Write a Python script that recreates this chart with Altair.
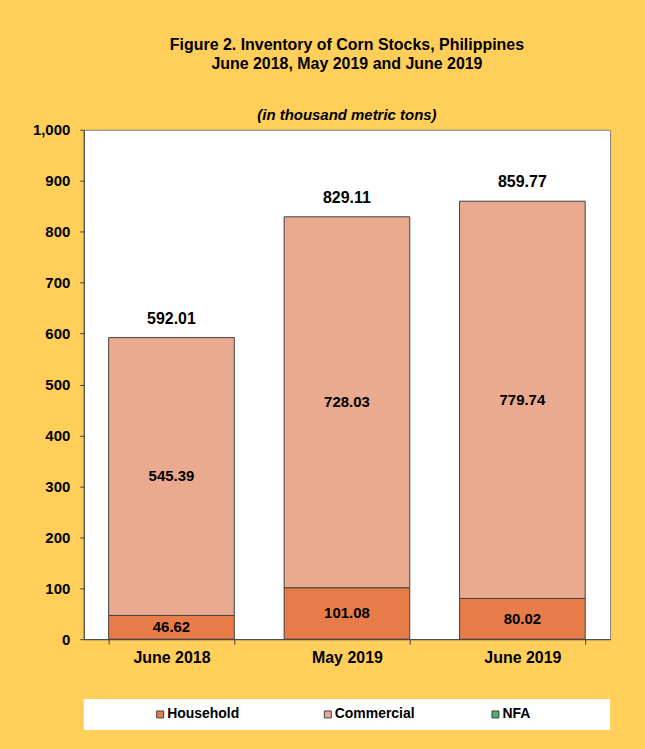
import altair as alt
import pandas as pd

categories = ["June 2018", "May 2019", "June 2019"]
series = ["Household", "Commercial", "NFA"]
household = [46.62, 101.08, 80.02]
commercial = [545.39, 728.03, 779.74]
nfa = [0.0, 0.0, 0.0]
totals = [592.01, 829.11, 859.77]
y_ticks = list(range(0, 1001, 100))
colors = ["#E87C48", "#E9AA8F", "#4DAF6E"]

FONT = "Liberation Sans"
BG = "#FFCF5A"

rows = []
for i, c in enumerate(categories):
    for k, (s, vals) in enumerate(zip(series, [household, commercial, nfa])):
        rows.append({"category": c, "series": s, "order": k, "value": vals[i]})
df = pd.DataFrame(rows)
tot_df = pd.DataFrame({"category": categories, "total": totals})
leg_df = pd.DataFrame({"series": series})

x_scale = alt.Scale(domain=categories, paddingInner=0.284, paddingOuter=0.142)
x_axis = alt.Axis(
    title=None, labelAngle=0, labelFont=FONT, labelFontSize=16, labelFontWeight="bold",
    labelColor="black", tickBand="extent", tickSize=5, tickColor="#404040",
    domainColor="#404040", labelPadding=5,
)
y_scale = alt.Scale(domain=[0, 1000], nice=False)
y_axis = alt.Axis(
    title=None, values=y_ticks, format=",.0f", labelFont=FONT, labelFontSize=15,
    labelFontWeight="bold", labelColor="black", grid=False, tickSize=4,
    tickColor="#404040", domainColor="#404040", labelPadding=10,
)
color = alt.Color("series:N", scale=alt.Scale(domain=series, range=colors), legend=None)

bars = alt.Chart(df).transform_filter("datum.value > 0").mark_bar(
    stroke="#404040", strokeWidth=1
).encode(
    x=alt.X("category:N", scale=x_scale, axis=x_axis),
    y=alt.Y("value:Q", stack="zero", scale=y_scale, axis=y_axis),
    color=color,
    order=alt.Order("order:Q"),
)

seg = alt.Chart(df).transform_filter("datum.value > 0").transform_stack(
    stack="value", groupby=["category"], as_=["v0", "v1"], sort=[alt.SortField("order")]
).transform_calculate(mid="(datum.v0 + datum.v1) / 2").mark_text(
    font=FONT, fontSize=15, fontWeight="bold", color="black"
).encode(
    x=alt.X("category:N", scale=x_scale),
    y=alt.Y("mid:Q", scale=y_scale),
    text=alt.Text("value:Q", format=".2f"),
)

tot = alt.Chart(tot_df).mark_text(
    font=FONT, fontSize=16, fontWeight="bold", color="black", baseline="alphabetic", dy=-14
).encode(
    x=alt.X("category:N", scale=x_scale),
    y=alt.Y("total:Q", scale=y_scale),
    text=alt.Text("total:Q", format=".2f"),
)

main = alt.layer(bars, seg, tot).properties(
    width=528, height=511,
    view=alt.ViewBackground(fill="white", stroke="#808080", strokeWidth=1),
    title=alt.TitleParams(
        text=["Figure 2. Inventory of Corn Stocks, Philippines", "June 2018, May 2019 and June 2019"],
        font=FONT, fontSize=16, fontWeight="bold", lineHeight=19, color="black",
        subtitle="(in thousand metric tons)", subtitleFont=FONT, subtitleFontSize=15,
        subtitleFontStyle="italic", subtitleFontWeight="bold", subtitleColor="black",
        subtitlePadding=36, offset=0, anchor="middle",
    ),
)

leg_x = alt.X("series:N", scale=alt.Scale(type="point", domain=series, padding=0.57, align=0.4), axis=None)
sym = alt.Chart(leg_df).mark_point(
    shape="square", filled=True, size=49, stroke="#404040", strokeWidth=1, opacity=1
).encode(x=leg_x, color=color)
lab = alt.Chart(leg_df).mark_text(
    align="left", dx=7, font=FONT, fontSize=14, fontWeight="bold", color="black"
).encode(x=leg_x, text="series:N")
legend_panel = alt.layer(sym, lab).properties(
    width=528, height=31,
    view=alt.ViewBackground(fill="white", stroke="white", strokeWidth=0),
)

chart = alt.vconcat(main, legend_panel, spacing=33).properties(
    background=BG,
    padding={"left": 31, "right": 34, "top": 35, "bottom": 18},
)

chart.save("out.html", embed_options={"renderer": "svg", "actions": False})
